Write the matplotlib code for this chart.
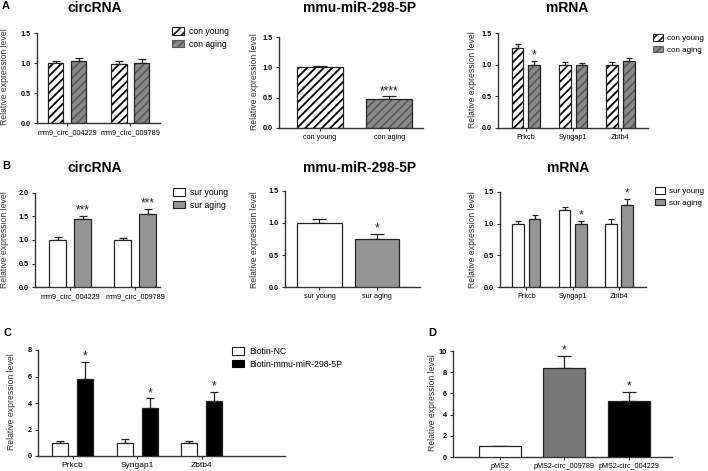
import matplotlib
matplotlib.use('Agg')
import matplotlib.pyplot as plt
import numpy as np
from matplotlib.patches import Patch

plt.rcParams['font.family'] = ['Liberation Sans', 'DejaVu Sans']
plt.rcParams['hatch.linewidth'] = 1.3

# ---------------- data ----------------
circ_labels = ['mm9_circ_004229', 'mm9_circ_009789']
con_labels = ['con young', 'con aging']
sur_labels = ['sur young', 'sur aging']
mrna_labels = ['Prkcb', 'Syngap1', 'Zbtb4']
c_series = ['Biotin-NC', 'Biotin-mmu-miR-298-5P']
d_labels = ['pMS2', 'pMS2-circ_009789', 'pMS2-circ_004229']

a_circ_young = [1.00, 0.99]
a_circ_young_err = [0.04, 0.04]
a_circ_aging = [1.03, 1.00]
a_circ_aging_err = [0.06, 0.06]

a_mir = [1.00, 0.47]
a_mir_err = [0.02, 0.05]
a_mir_sig = ['', '****']

a_mrna_young = [1.26, 1.00, 1.00]
a_mrna_young_err = [0.06, 0.04, 0.04]
a_mrna_aging = [1.00, 1.00, 1.06]
a_mrna_aging_err = [0.06, 0.03, 0.04]
a_mrna_sig = ['*', '', '']

b_circ_young = [1.00, 1.00]
b_circ_young_err = [0.07, 0.04]
b_circ_aging = [1.45, 1.55]
b_circ_aging_err = [0.06, 0.11]
b_circ_sig = ['***', '***']

b_mir = [1.00, 0.75]
b_mir_err = [0.06, 0.08]
b_mir_sig = ['', '*']

b_mrna_young = [1.00, 1.21, 1.00]
b_mrna_young_err = [0.04, 0.06, 0.07]
b_mrna_aging = [1.08, 1.00, 1.29]
b_mrna_aging_err = [0.06, 0.04, 0.10]
b_mrna_sig = ['', '*', '*']

c_nc = [1.00, 1.00, 1.00]
c_nc_err = [0.10, 0.30, 0.12]
c_bio = [5.80, 3.62, 4.13]
c_bio_err = [1.33, 0.72, 0.70]
c_sig = ['*', '*', '*']

d_vals = [1.00, 8.40, 5.28]
d_err = [0.08, 1.12, 0.88]
d_sig = ['', '*', '*']

# ---------------- layout helpers ----------------
W, H = 708, 471
fig = plt.figure(figsize=(W / 100, H / 100), dpi=100)


def rect(x0, x1, ytop, ybot):
    return [x0 / W, 1 - ybot / H, (x1 - x0) / W, (ybot - ytop) / H]


def fx(x):
    return x / W


def fy(y):
    return 1 - y / H


EDGE = '#222222'
GRAY_H = '#8a8a8a'
GRAY_HL = '#5c5c5c'
GRAY_S = '#959595'


def style_axes(ax, ylim, yticks, ytick_fmt, xpos, xlabels, xlim, ylab_x, ylab_y, xfs=5.2):
    ax.set_ylim(*ylim)
    ax.set_xlim(*xlim)
    for s in ['top', 'right']:
        ax.spines[s].set_visible(False)
    for s in ['left', 'bottom']:
        ax.spines[s].set_linewidth(1.0)
        ax.spines[s].set_color('#333333')
    ax.set_yticks(yticks)
    ax.set_yticklabels([ytick_fmt.format(t) for t in yticks], fontsize=5.2, fontweight='bold')
    ax.set_xticks(xpos)
    ax.set_xticklabels(xlabels, fontsize=xfs)
    ax.tick_params(axis='both', length=2.5, width=0.8, pad=2, color='#333333')
    ax.set_ylabel('Relative expression level', fontsize=6.2, color='#333333')
    # label anchor is its right edge (rotated text); centre given in ylab_x
    ax.yaxis.set_label_coords(fx(ylab_x + 4), fy(ylab_y), transform=fig.transFigure)
    ax.patch.set_alpha(0)


def draw_bar(ax, x, h, err, width, face, hatch=None, hatch_color=None, capsize=3):
    if hatch:
        ax.bar(x, h, width, color=face, edgecolor=hatch_color, hatch=hatch, linewidth=0, zorder=2)
        ax.bar(x, h, width, fill=False, edgecolor=EDGE, linewidth=0.9, zorder=3)
    else:
        ax.bar(x, h, width, color=face, edgecolor=EDGE, linewidth=0.9, zorder=3)
    ax.errorbar(x, h, yerr=[[0], [err]], fmt='none', ecolor=EDGE, elinewidth=0.9,
                capsize=capsize, capthick=0.9, zorder=1)


def star(ax, x, top, s, fs=8.5):
    if s:
        ax.annotate(s, (x, top), xytext=(0, -0.5), textcoords='offset points',
                    ha='center', va='bottom', fontsize=fs, color='#222222')


def legend(handles, labels, x, y, fs=6.2, hl=1.4, tp=0.6):
    fig.legend(handles, labels, loc='upper left', bbox_to_anchor=(fx(x), fy(y)),
               frameon=False, fontsize=fs, handlelength=hl, handleheight=0.9,
               handletextpad=tp, labelspacing=0.45, borderaxespad=0, borderpad=0)


young_h = Patch(facecolor='white', edgecolor=EDGE, hatch='////', linewidth=0.8)
aging_h = Patch(facecolor=GRAY_H, edgecolor=GRAY_HL, hatch='////', linewidth=0.8)
young_s = Patch(facecolor='white', edgecolor=EDGE, linewidth=0.8)
aging_s = Patch(facecolor=GRAY_S, edgecolor=EDGE, linewidth=0.8)

# ---------------- Panel A : circRNA ----------------
ax = fig.add_axes(rect(37, 160, 33, 123))
pos = np.arange(len(circ_labels))
off, wd = 0.18, 0.24
for i in range(len(pos)):
    draw_bar(ax, pos[i] - off, a_circ_young[i], a_circ_young_err[i], wd, 'white', '////', 'black', 2.8)
    draw_bar(ax, pos[i] + off, a_circ_aging[i], a_circ_aging_err[i], wd, GRAY_H, '////', GRAY_HL, 2.8)
style_axes(ax, (0, 1.5), [0, 0.5, 1.0, 1.5], '{:.1f}', pos, circ_labels, (-0.48, 1.47), 5, 77)
legend([young_h, aging_h], con_labels, 172, 27)

# ---------------- Panel A : miRNA ----------------
ax = fig.add_axes(rect(279, 423, 37, 128))
pos = np.arange(len(con_labels))
draw_bar(ax, pos[0], a_mir[0], a_mir_err[0], 0.67, 'white', '////', 'black', 5)
draw_bar(ax, pos[1], a_mir[1], a_mir_err[1], 0.67, GRAY_H, '////', GRAY_HL, 5)
for i in range(2):
    star(ax, pos[i], a_mir[i] + a_mir_err[i], a_mir_sig[i])
style_axes(ax, (0, 1.5), [0, 0.5, 1.0, 1.5], '{:.1f}', pos, con_labels, (-0.594, 1.49), 255, 82)

# ---------------- Panel A : mRNA ----------------
ax = fig.add_axes(rect(498, 648, 33, 128))
pos = np.arange(len(mrna_labels))
off, wd = 0.176, 0.245
for i in range(len(pos)):
    draw_bar(ax, pos[i] - off, a_mrna_young[i], a_mrna_young_err[i], wd, 'white', '////', 'black', 2.5)
    draw_bar(ax, pos[i] + off, a_mrna_aging[i], a_mrna_aging_err[i], wd, GRAY_H, '////', GRAY_HL, 2.5)
    star(ax, pos[i] + off, a_mrna_aging[i] + a_mrna_aging_err[i], a_mrna_sig[i])
style_axes(ax, (0, 1.5), [0, 0.5, 1.0, 1.5], '{:.1f}', pos, mrna_labels, (-0.59, 2.58), 473, 80)
legend([young_h, aging_h], con_labels, 653, 34, fs=5.8, hl=1.2, tp=0.5)

# ---------------- Panel B : circRNA ----------------
ax = fig.add_axes(rect(35, 160, 193, 287))
pos = np.arange(len(circ_labels))
off, wd = 0.19, 0.26
for i in range(len(pos)):
    draw_bar(ax, pos[i] - off, b_circ_young[i], b_circ_young_err[i], wd, 'white', capsize=3)
    draw_bar(ax, pos[i] + off, b_circ_aging[i], b_circ_aging_err[i], wd, GRAY_S, capsize=3)
    star(ax, pos[i] + off, b_circ_aging[i] + b_circ_aging_err[i], b_circ_sig[i])
style_axes(ax, (0, 2.0), [0, 0.5, 1.0, 1.5, 2.0], '{:.1f}', pos, circ_labels, (-0.54, 1.38), 5, 240)
legend([young_s, aging_s], sur_labels, 173, 188)

# ---------------- Panel B : miRNA ----------------
ax = fig.add_axes(rect(285, 420, 191, 287))
pos = np.arange(len(sur_labels))
draw_bar(ax, pos[0], b_mir[0], b_mir_err[0], 0.78, 'white', capsize=5)
draw_bar(ax, pos[1], b_mir[1], b_mir_err[1], 0.78, GRAY_S, capsize=5)
for i in range(2):
    star(ax, pos[i], b_mir[i] + b_mir_err[i], b_mir_sig[i])
style_axes(ax, (0, 1.5), [0, 0.5, 1.0, 1.5], '{:.1f}', pos, sur_labels, (-0.6, 1.75), 255, 240)

# ---------------- Panel B : mRNA ----------------
ax = fig.add_axes(rect(500, 646, 192, 287))
pos = np.arange(len(mrna_labels))
off, wd = 0.176, 0.25
for i in range(len(pos)):
    draw_bar(ax, pos[i] - off, b_mrna_young[i], b_mrna_young_err[i], wd, 'white', capsize=2.5)
    draw_bar(ax, pos[i] + off, b_mrna_aging[i], b_mrna_aging_err[i], wd, GRAY_S, capsize=2.5)
    star(ax, pos[i] + off, b_mrna_aging[i] + b_mrna_aging_err[i], b_mrna_sig[i])
style_axes(ax, (0, 1.5), [0, 0.5, 1.0, 1.5], '{:.1f}', pos, mrna_labels, (-0.57, 2.58), 473, 240)
legend([young_s, aging_s], sur_labels, 655, 187, fs=5.8, hl=1.2, tp=0.5)

# ---------------- Panel C ----------------
ax = fig.add_axes(rect(38, 285, 350, 456))
pos = np.arange(len(mrna_labels))
off, wd = 0.194, 0.25
for i in range(len(pos)):
    draw_bar(ax, pos[i] - off, c_nc[i], c_nc_err[i], wd, 'white', capsize=3)
    draw_bar(ax, pos[i] + off, c_bio[i], c_bio_err[i], wd, 'black', capsize=3)
    star(ax, pos[i] + off, c_bio[i] + c_bio_err[i], c_sig[i])
style_axes(ax, (0, 8), [0, 2, 4, 6, 8], '{:d}', pos, mrna_labels, (-0.535, 3.29), 12, 402, xfs=6)
legend([Patch(facecolor='white', edgecolor=EDGE, linewidth=0.8),
        Patch(facecolor='black', edgecolor='black', linewidth=0.8)], c_series, 232, 347)

# ---------------- Panel D ----------------
ax = fig.add_axes(rect(453, 672, 351, 457))
pos = np.arange(len(d_labels))
d_faces = ['white', '#777777', 'black']
for i in range(len(pos)):
    draw_bar(ax, pos[i], d_vals[i], d_err[i], 0.65, d_faces[i], capsize=5)
    star(ax, pos[i], d_vals[i] + d_err[i], d_sig[i])
style_axes(ax, (0, 10), [0, 2, 4, 6, 8, 10], '{:d}', pos, d_labels, (-0.73, 2.67), 433, 403)

# ---------------- titles and panel letters ----------------
for (x, y, t) in [(95, 8, 'circRNA'), (360, 8, 'mmu-miR-298-5P'), (567, 8, 'mRNA'),
                  (95, 168, 'circRNA'), (360, 168, 'mmu-miR-298-5P'), (568, 168, 'mRNA')]:
    fig.text(fx(x), fy(y), t, ha='center', va='center', fontsize=10, fontweight='bold')
for (x, y, t) in [(2, 6, 'A'), (2, 166, 'B'), (4, 333, 'C'), (428, 333, 'D')]:
    fig.text(fx(x), fy(y), t, ha='left', va='center', fontsize=8, fontweight='bold')

fig.savefig('out.png', dpi=100)
